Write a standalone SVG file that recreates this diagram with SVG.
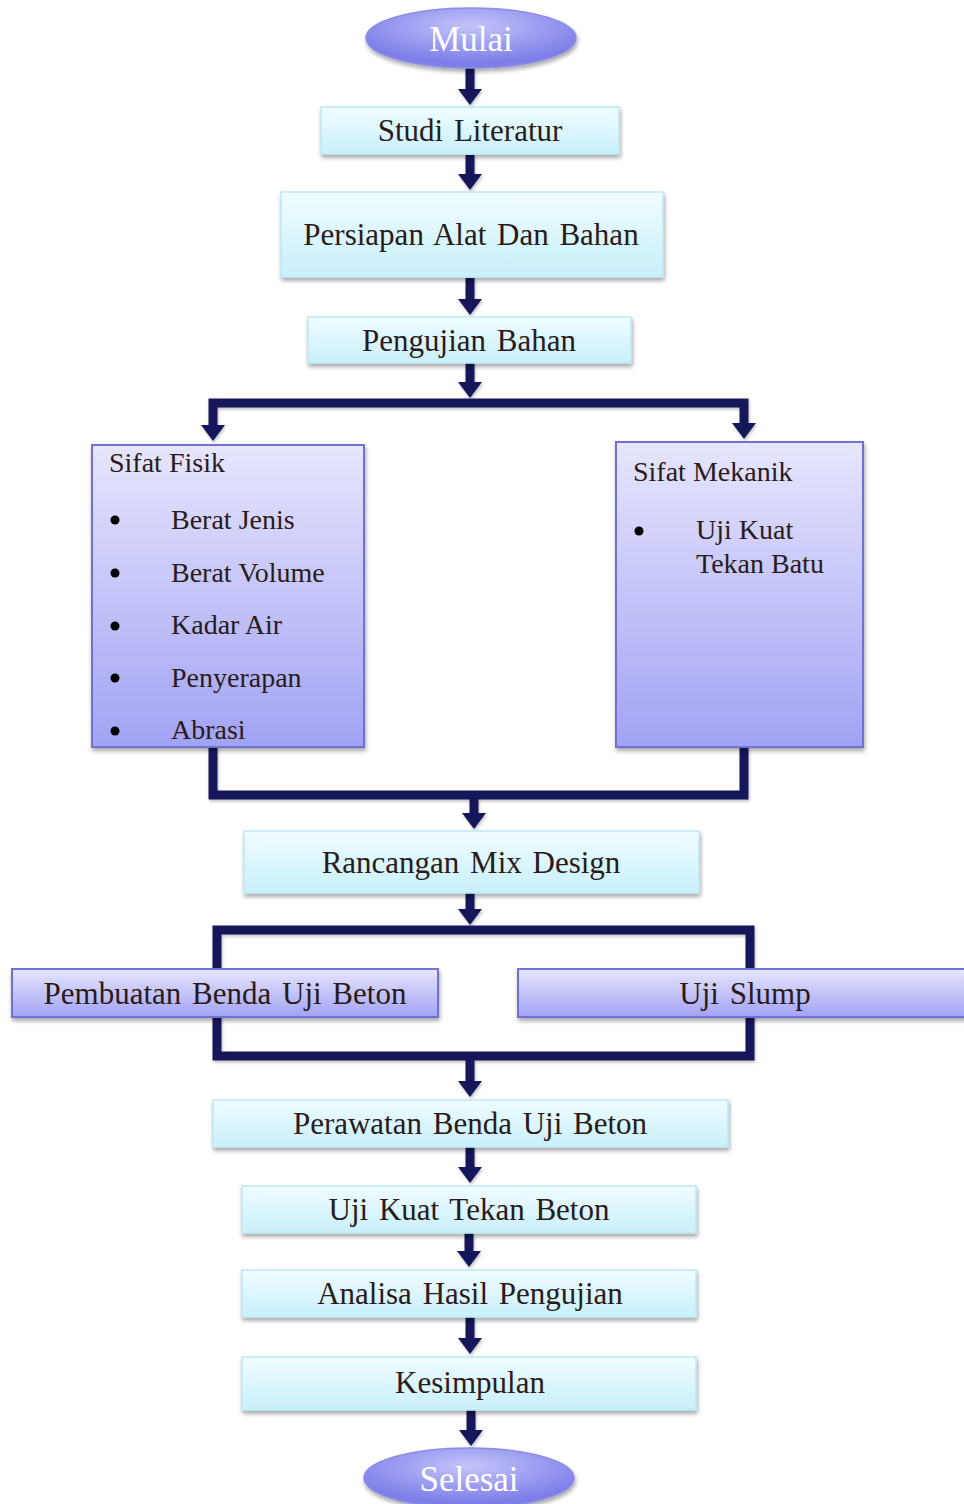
<svg xmlns="http://www.w3.org/2000/svg" width="964" height="1504" viewBox="0 0 964 1504">
<style>
.lb{fill:url(#gLight);stroke:#bde8f5;stroke-width:1.5;filter:url(#sh)}
.pb{fill:url(#gPurp);stroke:#6f6fd6;stroke-width:2;filter:url(#sh)}
.el{fill:url(#gEll);stroke:#8c8ce6;stroke-width:1.5;filter:url(#sh)}
.t{font-family:"Liberation Serif","Times New Roman",serif;font-size:31px;fill:#2a1b1b;text-anchor:middle;word-spacing:3px}
.tw{font-family:"Liberation Serif","Times New Roman",serif;font-size:35px;fill:#ffffff;text-anchor:middle}
.ts{font-family:"Liberation Serif","Times New Roman",serif;font-size:28px;fill:#2a1b1b}
.c{fill:none;stroke:#16165a;stroke-width:9;stroke-linejoin:miter}
.ca{fill:none;stroke:#16165a;stroke-width:9;stroke-linejoin:miter;marker-end:url(#ah)}
.bu{fill:#000}
</style>
<defs>
<linearGradient id="gLight" x1="0" y1="0" x2="0" y2="1"><stop offset="0" stop-color="#f0fcff"/><stop offset="1" stop-color="#c8f0fb"/></linearGradient>
<linearGradient id="gPurp" x1="0" y1="0" x2="0" y2="1"><stop offset="0" stop-color="#e6e6fd"/><stop offset="1" stop-color="#a2a2f4"/></linearGradient>
<radialGradient id="gEll" cx="0.5" cy="0.3" r="0.6"><stop offset="0" stop-color="#c4c4fb"/><stop offset="1" stop-color="#7e7ee9"/></radialGradient>
<filter id="sh" x="-10%" y="-10%" width="120%" height="130%"><feDropShadow dx="1" dy="3" stdDeviation="2" flood-color="#000" flood-opacity="0.35"/></filter>
<filter id="shc" filterUnits="userSpaceOnUse" x="0" y="0" width="964" height="1504"><feDropShadow dx="1" dy="2" stdDeviation="1.5" flood-color="#000" flood-opacity="0.25"/></filter>
<marker id="ah" markerUnits="userSpaceOnUse" viewBox="0 0 16 24" markerWidth="16" markerHeight="24" refX="1" refY="12" orient="auto"><path d="M0,0 L16,12 L0,24 z" fill="#16165a"/></marker>
</defs>
<g id="connectors" filter="url(#shc)">
<path class="ca" d="M470,68 V90"/>
<path class="ca" d="M470,155 V175"/>
<path class="ca" d="M470,278 V300"/>
<path class="ca" d="M470,363 V383"/>
<path class="ca" d="M470,403 H213 V426"/>
<path class="ca" d="M470,403 H744 V424"/>
<path class="c" d="M213,747 V795 H744 V747"/>
<path class="ca" d="M474,795 V814"/>
<path class="ca" d="M470,893 V910"/>
<path class="c" d="M217,930 H750 V1056 H217 Z"/>
<path class="ca" d="M470,1056 V1082"/>
<path class="ca" d="M470,1147 V1168"/>
<path class="ca" d="M469,1233 V1252"/>
<path class="ca" d="M470,1317 V1339"/>
<path class="ca" d="M471,1410 V1431"/>
</g>
<g id="mulai"><ellipse class="el" cx="471" cy="38" rx="105" ry="30"/><text class="tw" x="471" y="51">Mulai</text></g>
<g id="studi"><rect class="lb" x="321" y="107" width="298" height="47"/><text class="t" x="470" y="141">Studi Literatur</text></g>
<g id="persiapan"><rect class="lb" x="281" y="192" width="382" height="85"/><text class="t" x="471" y="245">Persiapan Alat Dan Bahan</text></g>
<g id="pengujian"><rect class="lb" x="308" y="317" width="323" height="46"/><text class="t" x="469" y="351">Pengujian Bahan</text></g>
<g id="sifat-fisik"><rect class="pb" x="92" y="445" width="272" height="302"/>
<text class="ts" x="109" y="472">Sifat Fisik</text>
<circle class="bu" cx="115" cy="520" r="4.5"/><text class="ts" x="171" y="529">Berat Jenis</text>
<circle class="bu" cx="115" cy="573" r="4.5"/><text class="ts" x="171" y="582">Berat Volume</text>
<circle class="bu" cx="115" cy="626" r="4.5"/><text class="ts" x="171" y="634">Kadar Air</text>
<circle class="bu" cx="115" cy="678" r="4.5"/><text class="ts" x="171" y="687">Penyerapan</text>
<circle class="bu" cx="115" cy="731" r="4.5"/><text class="ts" x="171" y="739">Abrasi</text>
</g>
<g id="sifat-mekanik"><rect class="pb" x="616" y="442" width="247" height="305"/>
<text class="ts" x="633" y="481">Sifat Mekanik</text>
<circle class="bu" cx="639" cy="531" r="4.5"/><text class="ts" x="696" y="539">Uji Kuat</text>
<text class="ts" x="696" y="573">Tekan Batu</text>
</g>
<g id="rancangan"><rect class="lb" x="244" y="831" width="455" height="62"/><text class="t" x="471" y="873">Rancangan Mix Design</text></g>
<g id="pembuatan"><rect class="pb" x="12" y="969" width="426" height="48"/><text class="t" x="225" y="1004">Pembuatan Benda Uji Beton</text></g>
<g id="slump"><rect class="pb" x="518" y="969" width="456" height="48"/><text class="t" x="745" y="1004">Uji Slump</text></g>
<g id="perawatan"><rect class="lb" x="213" y="1100" width="515" height="47"/><text class="t" x="470" y="1134">Perawatan Benda Uji Beton</text></g>
<g id="uji-kuat"><rect class="lb" x="242" y="1186" width="454" height="47"/><text class="t" x="469" y="1220">Uji Kuat Tekan Beton</text></g>
<g id="analisa"><rect class="lb" x="242" y="1270" width="454" height="47"/><text class="t" x="470" y="1304">Analisa Hasil Pengujian</text></g>
<g id="kesimpulan"><rect class="lb" x="242" y="1357" width="454" height="53"/><text class="t" x="470" y="1393">Kesimpulan</text></g>
<g id="selesai"><ellipse class="el" cx="469" cy="1478" rx="105" ry="30"/><text class="tw" x="469" y="1491">Selesai</text></g>
</svg>
